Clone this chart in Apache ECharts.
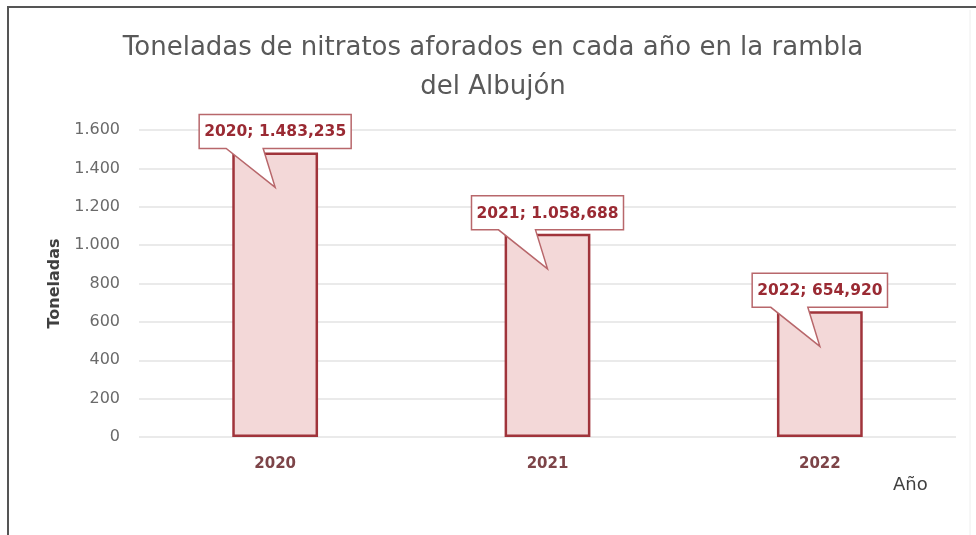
<!DOCTYPE html>
<html>
<head>
<meta charset="utf-8">
<script src="https://cdn.jsdelivr.net/npm/echarts@6/dist/echarts.min.js"></script>
<style>
html,body{margin:0;padding:0;background:#fff;}
#chart{width:976px;height:535px;}
</style>
</head>
<body>
<div id="chart"></div>
<script>
const years = ['2020', '2021', '2022'];
const toneladas = [1483.235, 1058.688, 654.920];
const yTicks = [0, 200, 400, 600, 800, 1000, 1200, 1400, 1600];
const titleLines = ['Toneladas de nitratos aforados en cada año en la rambla', 'del Albujón'];
const xAxisTitle = 'Año';
const yAxisTitle = 'Toneladas';

function fmtNum(v, dec) {
  const parts = v.toFixed(dec).split('.');
  const intPart = parts[0].replace(/\B(?=(\d{3})+(?!\d))/g, '.');
  return parts[1] ? intPart + ',' + parts[1] : intPart;
}

const FONT = '"DejaVu Sans", sans-serif';
const LABEL_FONT = 'bold 15.5px "DejaVu Sans", sans-serif';
const measureCtx = document.createElement('canvas').getContext('2d');
function textWidth(t) { measureCtx.font = LABEL_FONT; return measureCtx.measureText(t).width; }

const chart = echarts.init(document.getElementById('chart'), null, {renderer: 'canvas'});

const option = {
  backgroundColor: '#ffffff',
  animation: false,
  title: {
    text: titleLines.join('\n'),
    left: 488, top: 24, textAlign: 'center',
    textStyle: {fontFamily: FONT, fontSize: 26, fontWeight: 'normal', color: '#595959', lineHeight: 39}
  },
  grid: {left: 139, right: 20, top: 130, bottom: 98, containLabel: false},
  xAxis: {
    type: 'category', data: years,
    axisLine: {show: false}, axisTick: {show: false},
    axisLabel: {margin: 20, fontFamily: FONT, fontSize: 15, fontWeight: 'bold', color: '#7d4448'}
  },
  yAxis: {
    type: 'value', min: yTicks[0], max: yTicks[yTicks.length - 1], interval: yTicks[1] - yTicks[0],
    name: yAxisTitle, nameLocation: 'middle', nameGap: 76, nameRotate: 90,
    nameTextStyle: {fontFamily: FONT, fontSize: 16, fontWeight: 'bold', color: '#404040'},
    axisLine: {show: false}, axisTick: {show: false},
    axisLabel: {margin: 19, fontFamily: FONT, fontSize: 16, color: '#6a6a6a',
      formatter: v => fmtNum(v, 0)},
    splitLine: {lineStyle: {color: '#e3e3e3', width: 1.5}}
  },
  series: [
    {
      type: 'bar', data: toneladas, barWidth: '31.5%',
      itemStyle: {color: '#f3d8d8', borderColor: '#a0343b', borderWidth: 2.5}
    },
    {
      type: 'custom', coordinateSystem: 'cartesian2d',
      data: toneladas.map((v, i) => [i, v]),
      z: 10,
      renderItem: function (params, api) {
        const idx = api.value(0), val = api.value(1);
        const p = api.coord([idx, val]);
        const txt = years[idx] + '; ' + fmtNum(val, 3);
        const w = textWidth(txt) + 10;
        const h = 34;
        const cx = p[0];
        const B = p[1] - 4, T = B - h;
        const L = cx - w / 2, R = cx + w / 2;
        const b1 = cx - 49, b2 = cx - 12;
        const ax = cx, ay = p[1] + 35;
        return {
          type: 'group',
          children: [
            {type: 'polygon', shape: {points: [[L, T], [R, T], [R, B], [b2, B], [ax, ay], [b1, B], [L, B]]},
             style: {fill: '#ffffff', stroke: '#b8676b', lineWidth: 1.5}},
            {type: 'text', style: {text: txt, x: cx, y: (T + B) / 2 + 1, align: 'center', verticalAlign: 'middle',
             font: LABEL_FONT, fill: '#9a2a33'}}
          ]
        };
      }
    }
  ],
  graphic: [
    {type: 'line', shape: {x1: 7, y1: 7, x2: 976, y2: 7}, style: {stroke: '#555555', lineWidth: 2}},
    {type: 'line', shape: {x1: 8, y1: 7, x2: 8, y2: 535}, style: {stroke: '#555555', lineWidth: 2}},
    {type: 'line', shape: {x1: 970, y1: 10, x2: 970, y2: 535}, style: {stroke: '#eeeeee', lineWidth: 1}},
    {type: 'text', left: 893, top: 476, style: {text: xAxisTitle, font: '18px "DejaVu Sans", sans-serif', fill: '#404040'}}
  ]
};
chart.setOption(option);
</script>
</body>
</html>
